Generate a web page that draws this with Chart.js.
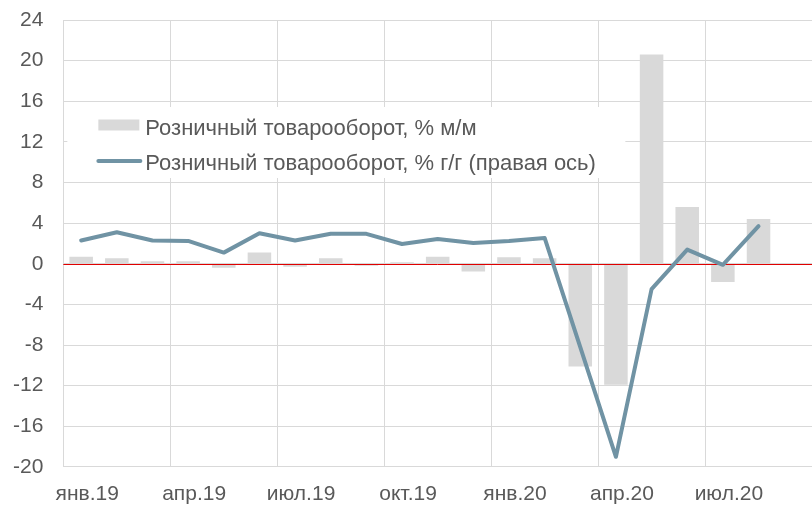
<!DOCTYPE html>
<html lang="ru">
<head>
<meta charset="utf-8">
<title>Розничный товарооборот</title>
<script src="https://cdn.jsdelivr.net/npm/chart.js@4.4.1/dist/chart.umd.min.js"></script>
<style>
  html, body { margin: 0; padding: 0; background: #fff; overflow: hidden; }
  .chart-box { position: relative; width: 812px; height: 505px; }
</style>
</head>
<body>
<div class="chart-box"><canvas id="retailChart"></canvas></div>
<script>
// months, Jan 2019 - Sep 2020
const months = ['янв.19', 'фев.19', 'мар.19', 'апр.19', 'май.19', 'июн.19', 'июл.19',
    'авг.19', 'сен.19', 'окт.19', 'ноя.19', 'дек.19', 'янв.20', 'фев.20', 'мар.20',
    'апр.20', 'май.20', 'июн.20', 'июл.20', 'авг.20', 'сен.20'];

// retail turnover, % m/m (bars)
const momValues = [0.7, 0.55, 0.25, 0.25, -0.4, 1.1, -0.3, 0.55, -0.2, 0.15, 0.7,
    -0.75, 0.65, 0.55, -10.1, -11.9, 20.6, 5.6, -1.8, 4.4, null];

// retail turnover, % y/y (line)
const yoyValues = [2.3, 3.1, 2.3, 2.25, 1.1, 3.0, 2.3, 2.95, 2.95, 1.95, 2.45,
    2.05, 2.25, 2.55, -8.2, -19.0, -2.5, 1.4, -0.1, 3.7, null];

const momName = 'Розничный товарооборот, % м/м';
const yoyName = 'Розничный товарооборот, % г/г (правая ось)';
const yMin = -20, yMax = 24, yStep = 4;
const labelEvery = 3;

const FONT = "'Liberation Sans', Arial, sans-serif";
const TEXT = '#595959';
const GRID = '#d9d9d9';
const BAR = '#d9d9d9';
const LINE = '#7093a4';

// red zero line, over the bars but under the line
const zeroLinePlugin = {
  id: 'zeroLine',
  afterDatasetDraw(chart, args) {
    if (args.meta.type !== 'bar') return;
    const { ctx, chartArea: { left, right } } = chart;
    const y = Math.round(chart.scales.y.getPixelForValue(0)) + 0.5;
    ctx.save();
    ctx.strokeStyle = '#e00000';
    ctx.lineWidth = 1;
    ctx.beginPath();
    ctx.moveTo(left, y);
    ctx.lineTo(right, y);
    ctx.stroke();
    ctx.restore();
  }
};

// legend drawn inside the plot on a white box
const boxLegendPlugin = {
  id: 'boxLegend',
  afterDatasetsDraw(chart) {
    const { ctx, chartArea: { left, top } } = chart;
    ctx.save();
    ctx.fillStyle = '#fff';
    ctx.fillRect(left + 4, top + 87, 558, 71);

    ctx.fillStyle = BAR;
    ctx.fillRect(left + 35, top + 99.5, 41, 11);

    ctx.strokeStyle = LINE;
    ctx.lineWidth = 4;
    ctx.lineCap = 'round';
    ctx.beginPath();
    ctx.moveTo(left + 35, top + 141);
    ctx.lineTo(left + 77, top + 141);
    ctx.stroke();

    ctx.font = '22px ' + FONT;
    ctx.fillStyle = TEXT;
    ctx.textBaseline = 'alphabetic';
    ctx.fillText(momName, left + 82, top + 114.5);
    ctx.fillText(yoyName, left + 82, top + 149.5);
    ctx.restore();
  }
};

new Chart(document.getElementById('retailChart'), {
  data: {
    labels: months,
    datasets: [
      {
        type: 'line',
        label: yoyName,
        data: yoyValues,
        borderColor: LINE,
        borderWidth: 4,
        borderJoinStyle: 'round',
        borderCapStyle: 'round',
        pointRadius: 0,
        tension: 0,
        order: 1
      },
      {
        type: 'bar',
        label: momName,
        data: momValues,
        backgroundColor: BAR,
        barPercentage: 0.66,
        categoryPercentage: 1,
        order: 2
      }
    ]
  },
  options: {
    responsive: true,
    maintainAspectRatio: false,
    animation: false,
    layout: { padding: { left: 13, top: 20, right: 0, bottom: 0 } },
    plugins: {
      legend: { display: false },
      tooltip: { enabled: false }
    },
    scales: {
      x: {
        offset: true,
        grid: {
          offset: true,
          drawTicks: false,
          color: c => (c.index % labelEvery === 0 ? GRID : 'rgba(0,0,0,0)')
        },
        border: { display: false },
        ticks: {
          autoSkip: false,
          maxRotation: 0,
          padding: 16,
          labelOffset: 6,
          color: TEXT,
          font: { family: FONT, size: 21, lineHeight: 1.05 },
          callback: (v, i) => (i % labelEvery === 0 ? months[i] : '')
        },
        // chart.js reserves the tick padding twice, keep it once
        afterFit: s => { s.paddingLeft = 0; s.paddingRight = 0; s.height -= 16; }
      },
      y: {
        min: yMin,
        max: yMax,
        grid: { drawTicks: false, color: GRID },
        border: { color: GRID },
        ticks: {
          stepSize: yStep,
          padding: 20,
          color: TEXT,
          font: { family: FONT, size: 21 }
        },
        afterFit: s => { s.paddingTop = 0; s.paddingBottom = 0; s.width -= 20; }
      }
    }
  },
  plugins: [zeroLinePlugin, boxLegendPlugin]
});
</script>
</body>
</html>
